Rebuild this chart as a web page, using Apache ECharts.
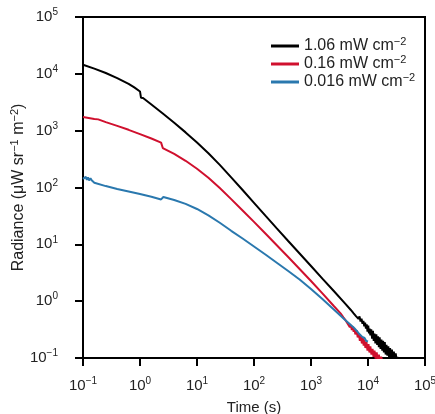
<!DOCTYPE html>
<html>
<head>
<meta charset="utf-8">
<script src="https://cdn.jsdelivr.net/npm/echarts@6/dist/echarts.min.js"></script>
<style>
  html, body { margin: 0; padding: 0; background: #fff; }
  #chart { width: 435px; height: 414px; }
</style>
</head>
<body>
<div id="chart"></div>
<script>
// Excitation intensities (mW cm^-2), one afterglow decay curve each
const intensities = ['1.06', '0.16', '0.016'];
const colors = ['#000000', '#d0102e', '#2a78ae'];

// Decay curves: [time (s), radiance (µW sr^-1 m^-2)]
const decayHigh = [
  [0.1, 14450], [0.158, 12360], [0.251, 10350], [0.398, 8414], [0.631, 6683], [0.794, 5781],
  [1.0, 4898], [1.04, 3800], [1.13, 3750], [1.585, 2884], [2.512, 2004], [3.981, 1380],
  [6.31, 933], [10, 619], [15.85, 400], [25.1, 250], [39.8, 151], [63.1, 90.4], [100, 53.7],
  [158.5, 31.9], [251, 19.05], [398, 11.43], [631, 6.89], [1000, 4.15], [1585, 2.5],
  [2512, 1.507], [3981, 0.908],
  [5000, 0.70], [5300, 0.69], [5600, 0.61], [5900, 0.63], [6200, 0.54], [6500, 0.56],
  [6800, 0.49], [7100, 0.54], [7400, 0.44], [7700, 0.49], [8000, 0.40], [8300, 0.45],
  [8600, 0.36], [8900, 0.42], [9200, 0.33], [9500, 0.39], [9800, 0.29], [10100, 0.37],
  [10400, 0.27], [10700, 0.33], [11000, 0.25], [11400, 0.32], [11800, 0.22], [12200, 0.30],
  [12600, 0.20], [13000, 0.27], [13500, 0.18], [14000, 0.26], [14500, 0.17], [15000, 0.24],
  [15500, 0.155], [16000, 0.23], [16600, 0.145], [17200, 0.21], [17800, 0.135], [18400, 0.2],
  [19000, 0.125], [19700, 0.19], [20400, 0.115], [21100, 0.17], [21900, 0.11], [22700, 0.16],
  [23500, 0.10], [24400, 0.15], [25300, 0.095], [26300, 0.14], [27300, 0.09], [28400, 0.13],
  [29500, 0.09], [30600, 0.12], [32000, 0.09], [33500, 0.105]
];
const decayMid = [
  [0.1, 1734], [0.158, 1603], [0.168, 1690], [0.185, 1580], [0.251, 1413], [0.398, 1216],
  [0.631, 1035], [1.0, 871], [1.585, 728], [2.344, 617], [2.45, 590], [2.512, 494],
  [3.981, 389], [6.31, 295], [10, 214], [15.85, 148], [25.1, 97.7], [39.8, 62.5],
  [63.1, 39.4], [100, 24.8], [158.5, 15.5], [251, 9.64], [398, 5.97], [631, 3.68],
  [1000, 2.26], [1585, 1.374], [2512, 0.822], [3300, 0.61],
  [3700, 0.52], [3981, 0.47], [4200, 0.46], [4400, 0.40], [4600, 0.43], [4800, 0.35],
  [5000, 0.38], [5200, 0.31], [5400, 0.36], [5600, 0.29], [5800, 0.33], [6000, 0.26],
  [6300, 0.31], [6600, 0.23], [6900, 0.27], [7200, 0.2], [7500, 0.25], [7800, 0.18],
  [8100, 0.23], [8400, 0.165], [8700, 0.21], [9000, 0.15], [9400, 0.19], [9800, 0.135],
  [10200, 0.175], [10600, 0.125], [11000, 0.16], [11500, 0.115], [12000, 0.145], [12500, 0.105],
  [13000, 0.135], [13600, 0.098], [14200, 0.125], [14800, 0.092], [15500, 0.115], [16200, 0.088],
  [17000, 0.105], [18000, 0.085]
];
const decayLow = [
  [0.1, 142], [0.104, 152], [0.108, 134], [0.112, 154], [0.117, 136], [0.122, 150],
  [0.128, 133], [0.135, 146], [0.142, 134], [0.158, 121.6], [0.251, 105.9], [0.398, 94.4],
  [0.631, 85.1], [1.0, 76.7], [1.585, 68.9], [2.344, 61.7], [2.45, 64], [2.57, 67.9],
  [3.981, 60.3], [6.31, 51.5], [10, 41.9], [15.85, 32.4], [25.1, 24.0], [39.8, 17.3],
  [63.1, 12.65], [100, 9.16], [158.5, 6.61], [251, 4.74], [398, 3.39], [631, 2.41],
  [1000, 1.63], [1585, 1.087], [2512, 0.714], [3981, 0.466], [5000, 0.38], [5600, 0.345],
  [6310, 0.302], [6900, 0.27], [7400, 0.262], [7943, 0.235], [8700, 0.225], [9300, 0.2],
  [10000, 0.195]
];

// Decade tick range
const xRange = [0.1, 100000];
const yRange = [0.1, 100000];

const FONT = 'Liberation Sans, Arial, sans-serif';

function pow10Label(v) {
  const e = Math.round(Math.log10(v));
  const s = e < 0 ? '\u2212' + Math.abs(e) : String(e);
  return '{b|10}{s|' + s + '}';
}

const tickRich = {
  b: { fontSize: 15, color: '#222', fontFamily: FONT },
  s: { fontSize: 10, color: '#222', fontFamily: FONT, padding: [0, 0, 9, 0] }
};
const nameRich = {
  t: { fontSize: 16, color: '#222', fontFamily: FONT },
  s: { fontSize: 11, color: '#222', fontFamily: FONT, padding: [0, 0, 9, 0] }
};
const legendRich = {
  t: { fontSize: 16, color: '#222', fontFamily: FONT },
  s: { fontSize: 11, color: '#222', fontFamily: FONT, padding: [0, 0, 9, 0] }
};

const axisCommon = {
  type: 'log',
  logBase: 10,
  nameMoveOverlap: false,
  axisLine: { show: true, lineStyle: { color: '#000', width: 2 } },
  axisTick: { show: true, inside: false, length: 8, lineStyle: { color: '#000', width: 2 } },
  minorTick: { show: false },
  splitLine: { show: false }
};

const series = [decayHigh, decayMid, decayLow].map((d, i) => ({
  name: intensities[i],
  type: 'line',
  data: d,
  showSymbol: false,
  symbol: 'none',
  clip: true,
  lineStyle: { color: colors[i], width: 2 },
  itemStyle: { color: colors[i] },
  z: 3 + i
}));

const chart = echarts.init(document.getElementById('chart'), null, { renderer: 'canvas' });
chart.setOption({
  animation: false,
  backgroundColor: '#fff',
  grid: {
    left: 83, right: 10, top: 17, bottom: 56,
    containLabel: false,
    outerBoundsMode: 'none',
    show: true, borderColor: '#000', borderWidth: 2, backgroundColor: 'transparent'
  },
  legend: {
    orient: 'vertical',
    left: 266, top: 31,
    itemGap: 0,
    itemWidth: 28, itemHeight: 3,
    icon: 'rect',
    data: intensities,
    formatter: n => '{t|' + n + ' mW cm}{s|\u22122}',
    textStyle: { rich: legendRich }
  },
  xAxis: Object.assign({}, axisCommon, {
    min: xRange[0], max: xRange[1],
    axisLabel: { formatter: pow10Label, rich: tickRich, margin: 18 },
    name: 'Time (s)',
    nameLocation: 'middle',
    nameGap: 42,
    nameTextStyle: { fontSize: 15, color: '#222', fontFamily: FONT }
  }),
  yAxis: Object.assign({}, axisCommon, {
    min: yRange[0], max: yRange[1],
    axisLabel: { formatter: pow10Label, rich: tickRich, margin: 25 },
    name: '{t|Radiance (\u03bcW sr}{s|\u22121}{t| m}{s|\u22122}{t|)}',
    nameLocation: 'middle',
    nameGap: 54,
    nameRotate: 90,
    nameTextStyle: { rich: nameRich }
  }),
  series: series
});
</script>
</body>
</html>
